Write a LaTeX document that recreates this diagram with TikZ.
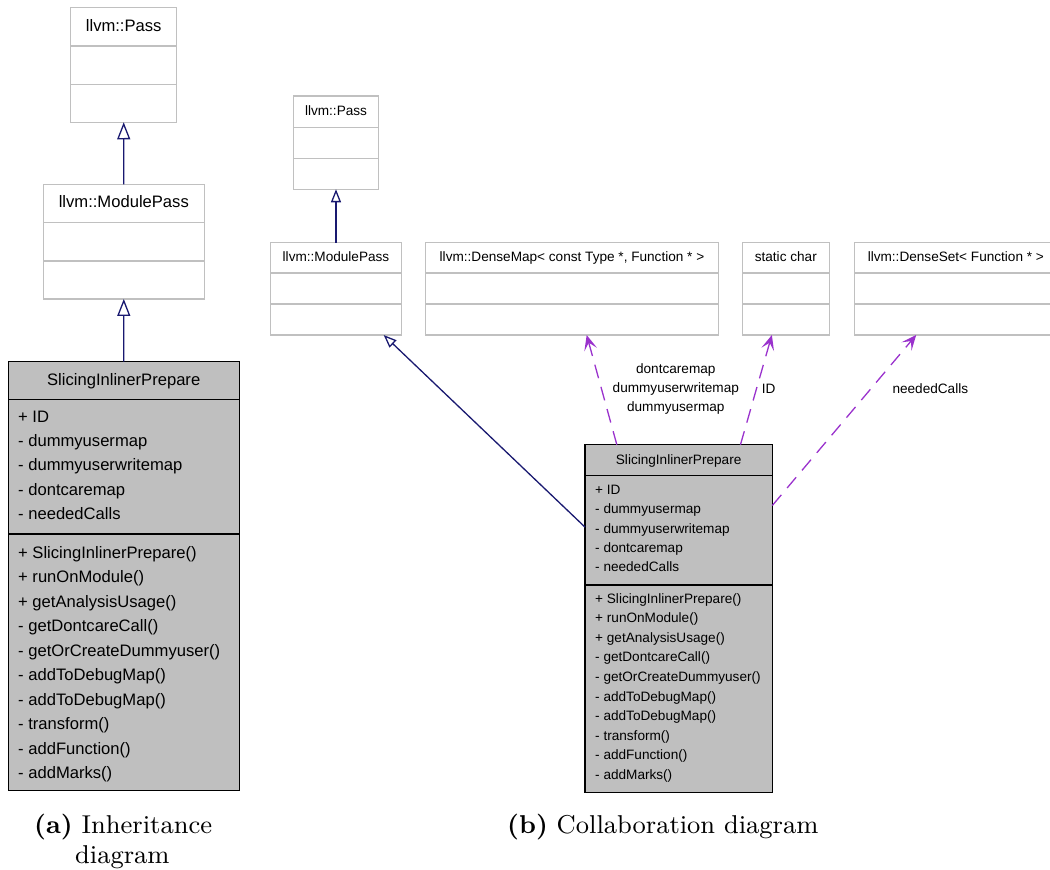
\documentclass[tikz,border=0pt]{standalone}
\usepackage{fontspec}
\newfontfamily\diagfont{Liberation Sans}
\newfontfamily\capfont[BoldFont=lmroman9-bold.otf]{lmroman9-regular.otf}
\usetikzlibrary{arrows.meta,calc}
\definecolor{clsgray}{HTML}{C0C0C0}
\definecolor{focusfill}{HTML}{BFBFBF}
\definecolor{inhblue}{HTML}{191970}
\definecolor{usepurple}{HTML}{9A32CD}
% horizontal compartment line inside a class box: #1 style, #2 box, #3 offset from top
\newcommand\compline[3]{\draw[#1] ($(#2.north west)+(0,#3)$) -- ($(#2.north east)+(0,#3)$);}
\begin{document}
\begin{tikzpicture}[x=1pt,y=-1pt,
  cls/.style={draw=clsgray, line width=1.3pt, fill=white, inner sep=0pt, outer sep=0pt},
  focus/.style={draw=black, line width=1.3pt, fill=focusfill, inner sep=0pt, outer sep=0pt},
  clsline/.style={draw=clsgray, line width=1.3pt},
  focusline/.style={draw=black, line width=1.3pt},
  bigtxt/.style={inner sep=0pt, font=\diagfont\fontsize{16.6}{20}\selectfont},
  smalltxt/.style={inner sep=0pt, font=\diagfont\fontsize{13.6}{19.3}\selectfont},
  captxt/.style={inner sep=0pt, font=\capfont\fontsize{25.8}{30}\selectfont},
  inh/.style={draw=inhblue, line width=1.3pt},
  bigtri/.style={-{Triangle[open,fill=white,length=17pt,width=13pt]}},
  smalltri/.style={-{Triangle[open,fill=white,length=13pt,width=10pt]}},
  use/.style={draw=usepurple, line width=1.3pt, dash pattern=on 14pt off 9pt,
    -{Stealth[length=15pt,width=13pt,inset=7pt]}},
]
\useasboundingbox (0,0) rectangle (1050,870);
\clip (0,0) rectangle (1050,870);

% ---------- (a) inheritance diagram ----------
\node[cls, minimum width=106, minimum height=114.6] (passA) at (123.7,65) {};
\compline{clsline}{passA}{38.3}
\compline{clsline}{passA}{76.6}
\node[bigtxt, anchor=base] (passAt) at ($(passA.north)+(0,23.8)$) {llvm::Pass};

\node[cls, minimum width=161, minimum height=114.7] (mpA) at (123.8,241.6) {};
\compline{clsline}{mpA}{38.4}
\compline{clsline}{mpA}{76.7}
\node[bigtxt, anchor=base] (mpAt) at ($(mpA.north)+(0,23)$) {llvm::ModulePass};

\node[focus, minimum width=231, minimum height=429] (sipA) at (123.7,576) {};
\compline{focusline}{sipA}{37.8}
\compline{focusline}{sipA}{172.5}
\node[bigtxt, anchor=base] (sipAt) at ($(sipA.north)+(0,23.8)$) {SlicingInlinerPrepare};
\foreach \t [count=\i] in {{+ ID},{- dummyusermap},{- dummyuserwritemap},{- dontcaremap},{- neededCalls}}
  \node[bigtxt, anchor=base west] (sipAa\i) at (18,{422.5+24.2*(\i-1)}) {\t};
\foreach \t [count=\i] in {{+ SlicingInlinerPrepare()},{+ runOnModule()},{+ getAnalysisUsage()},
    {- getDontcareCall()},{- getOrCreateDummyuser()},{- addToDebugMap()},{- addToDebugMap()},
    {- transform()},{- addFunction()},{- addMarks()}}
  \node[bigtxt, anchor=base west] (sipAm\i) at (18,{558+24.55*(\i-1)}) {\t};

\draw[inh, bigtri] (sipA.north) -- (mpA.south);
\draw[inh, bigtri] (mpA.north) -- (passA.south);

% ---------- (b) collaboration diagram ----------
\node[cls, minimum width=85.4, minimum height=93.3] (passB) at (336,142.6) {};
\compline{clsline}{passB}{31.3}
\compline{clsline}{passB}{62.3}
\node[smalltxt, anchor=base] (passBt) at ($(passB.north)+(0,19.7)$) {llvm::Pass};

\node[cls, minimum width=130.6, minimum height=92.3] (mpB) at (336,288.85) {};
\node[cls, minimum width=293.4, minimum height=92.3] (dm) at (572,288.85) {};
\node[cls, minimum width=87, minimum height=92.3] (sc) at (785.8,288.85) {};
\node[cls, minimum width=202.3, minimum height=92.3] (ds) at (955.85,288.85) {};
\foreach \b in {mpB,dm,sc,ds}{
  \compline{clsline}{\b}{30.3}
  \compline{clsline}{\b}{61.3}
}
\node[smalltxt, anchor=base] (mpBt) at ($(mpB.north)+(0,18.3)$) {llvm::ModulePass};
\node[smalltxt, anchor=base] (dmt) at ($(dm.north)+(0,18.3)$) {llvm::DenseMap< const Type *, Function * >};
\node[smalltxt, anchor=base] (sct) at ($(sc.north)+(0,18.3)$) {static char};
\node[smalltxt, anchor=base] (dst) at ($(ds.north)+(0,18.3)$) {llvm::DenseSet< Function * >};

\node[focus, minimum width=187.3, minimum height=347.6] (sipB) at (678.65,618.5) {};
\compline{focusline}{sipB}{30.8}
\compline{focusline}{sipB}{140.3}
\node[smalltxt, anchor=base] (sipBt) at ($(sipB.north)+(0,19.3)$) {SlicingInlinerPrepare};
\foreach \t [count=\i] in {{+ ID},{- dummyusermap},{- dummyuserwritemap},{- dontcaremap},{- neededCalls}}
  \node[smalltxt, anchor=base west] (sipBa\i) at (595,{494.3+19.4*(\i-1)}) {\t};
\foreach \t [count=\i] in {{+ SlicingInlinerPrepare()},{+ runOnModule()},{+ getAnalysisUsage()},
    {- getDontcareCall()},{- getOrCreateDummyuser()},{- addToDebugMap()},{- addToDebugMap()},
    {- transform()},{- addFunction()},{- addMarks()}}
  \node[smalltxt, anchor=base west] (sipBm\i) at (595,{603.3+19.55*(\i-1)}) {\t};

\draw[inh, smalltri] (mpB.north) -- (passB.south);
\draw[inh, smalltri] ($(sipB.north west)!0.237!(sipB.south west)$) -- ($(mpB.south west)!0.865!(mpB.south east)$);

\draw[use] ($(sipB.north west)!0.17!(sipB.north east)$) -- ($(dm.south west)!0.55!(dm.south east)$);
\draw[use] ($(sipB.north west)!0.83!(sipB.north east)$) -- ($(sc.south west)!0.34!(sc.south east)$);
\draw[use] ($(sipB.north east)!0.175!(sipB.south east)$) -- ($(ds.south west)+(61.5,0)$);

\node[smalltxt, align=center] (lblmaps) at (675.8,389) {dontcaremap\\dummyuserwritemap\\dummyusermap};
\node[smalltxt, anchor=base] (lblid) at (768.7,393.3) {ID};
\node[smalltxt, anchor=base] (lblcalls) at (930.3,393.3) {neededCalls};

% ---------- captions ----------
\node[captxt, anchor=base west] (capa) at (34,833.3) {\textbf{(a)} Inheritance};
\node[captxt, anchor=base west] (capa2) at (75,863.3) {diagram};
\node[captxt, anchor=base west] (capb) at (507,833.3) {\textbf{(b)} Collaboration diagram};
\end{tikzpicture}
\end{document}
